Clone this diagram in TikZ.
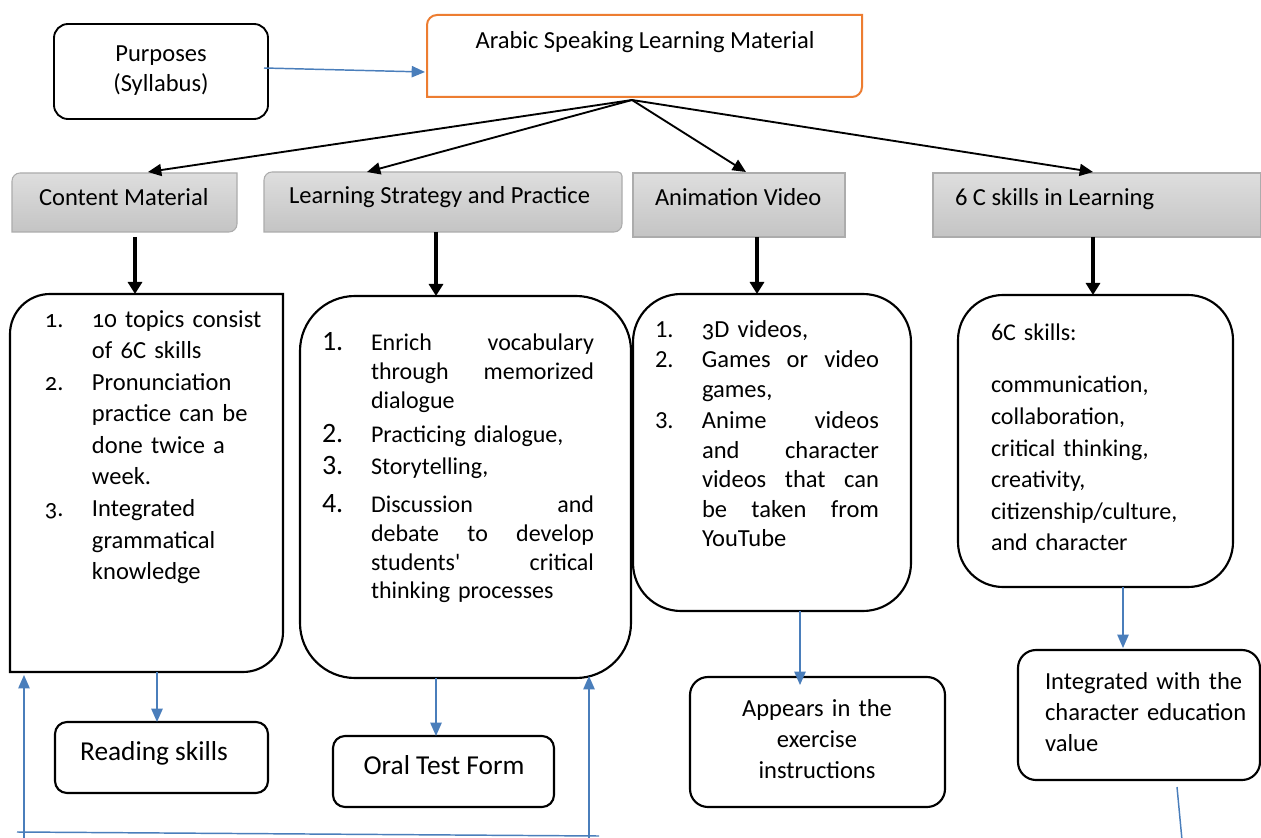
\documentclass[tikz,border=0pt]{standalone}
\usepackage{fontspec}
\setmainfont{Carlito}
\newfontfamily\oldnum{Carlito}[Numbers=OldStyle]
\usetikzlibrary{arrows.meta,calc}

\definecolor{linkblue}{RGB}{74,126,187}
\definecolor{mainorange}{RGB}{237,125,49}
\definecolor{barTop}{RGB}{222,222,222}
\definecolor{barBot}{RGB}{196,196,196}
\definecolor{barborder}{RGB}{172,172,172}

% outline with its own radius per corner: style, x1, y1, x2, y2, rTL, rTR, rBR, rBL
\newcommand{\roundedframe}[9]{%
  \path[#1] (#2,#3+#6) .. controls (#2,#3+0.448*#6) and (#2+0.448*#6,#3) .. (#2+#6,#3)
    -- (#4-#7,#3) .. controls (#4-0.448*#7,#3) and (#4,#3+0.448*#7) .. (#4,#3+#7)
    -- (#4,#5-#8) .. controls (#4,#5-0.448*#8) and (#4-0.448*#8,#5) .. (#4-#8,#5)
    -- (#2+#9,#5) .. controls (#2+0.448*#9,#5) and (#2,#5-0.448*#9) .. (#2,#5-#9)
    -- cycle;}

% invisible node covering a framed area: name, x1, y1, x2, y2
\newcommand{\placeframe}[5]{%
  \node[frame, minimum width={(#4-#2)*0.75pt}, minimum height={(#5-#3)*0.75pt}]
    (#1) at ({(#2+#4)/2},{(#3+#5)/2}) {};}

% a justified line of given width, words separated by \hfill
\newcommand{\jline}[2]{\hbox to #1{#2}}

\newcommand{\bodyfont}{\fontsize{18.4}{23.7}\selectfont}
\newcommand{\bignum}{\fontsize{21}{21}\selectfont}

\tikzset{
  frame/.style={inner sep=0pt, outer sep=0pt, draw=none},
  txt/.style={inner sep=0pt, outer sep=0pt},
  boxline/.style={draw=black, line width=1.6pt},
  bar/.style={draw=barborder, line width=0.8pt, top color=barTop, bottom color=barBot},
  blackarrow/.style={draw=black, line width=1.4pt, -{Triangle[length=10pt,width=9pt]}},
  thickarrow/.style={draw=black, line width=2.6pt, -{Triangle[length=9pt,width=10.5pt]}},
  bluearrow/.style={draw=linkblue, line width=1.1pt, -{Triangle[length=10pt,width=8.5pt]}},
  blueline/.style={draw=linkblue, line width=1.1pt},
}

\begin{document}
\begin{tikzpicture}[x=0.75pt,y=-0.75pt]
\path[fill=white] (0,0) rectangle (1261,838);
\useasboundingbox (0,0) rectangle (1261,838);

% ---------- frames ----------
\placeframe{purp}{54}{24}{268}{119}
\placeframe{main}{427}{15}{862}{97}
\placeframe{h1}{12}{173}{237}{232}
\placeframe{h2}{264}{172}{622}{232}
\placeframe{h3}{633}{173}{845}{237}
\placeframe{h4}{933}{173}{1261}{237}
\placeframe{b1}{10}{294}{283}{672}
\placeframe{b2}{300}{296}{631}{678}
\placeframe{b3}{633}{294}{911}{611}
\placeframe{b4}{958}{295}{1233}{587}
\placeframe{read}{55}{722}{268}{793}
\placeframe{oral}{333}{736}{554}{807}
\placeframe{appr}{690}{677}{945}{807}
\placeframe{integ}{1018}{650}{1260}{780}

% ---------- outlines ----------
\roundedframe{draw=black, line width=1.4pt}{54}{24}{268}{119}{14}{14}{14}{14}
\roundedframe{draw=mainorange, line width=1.5pt}{427}{15}{862}{97}{10}{0}{10}{0}
\roundedframe{bar}{12}{173}{237}{232}{8}{0}{8}{0}
\roundedframe{bar}{264}{172}{622}{232}{8}{4}{8}{0}
\roundedframe{bar}{633}{173}{845}{237}{0}{0}{0}{0}
\roundedframe{bar}{933}{173}{1261}{237}{0}{0}{0}{0}
\roundedframe{boxline}{10}{294}{283}{672}{40}{0}{40}{0}
\roundedframe{boxline}{300}{296}{631}{678}{55}{55}{55}{55}
\roundedframe{boxline}{633}{294}{911}{611}{48}{48}{48}{48}
\roundedframe{boxline}{958}{295}{1233}{587}{45}{45}{45}{45}
\roundedframe{boxline}{55}{722}{268}{793}{12}{12}{12}{12}
\roundedframe{boxline}{333}{736}{554}{807}{12}{12}{12}{12}
\roundedframe{boxline}{690}{677}{945}{807}{18}{18}{18}{18}
\roundedframe{boxline}{1018}{650}{1260}{780}{18}{18}{18}{18}

% ---------- texts ----------
\node[txt, anchor=base, text width=150pt, align=center, font=\fontsize{18.4}{22.5}\selectfont]
  (purpT) at (161,62) {Purposes\\(Syllabus)};
\node[txt, anchor=base, font=\bodyfont] (mainT) at (645,49) {Arabic Speaking Learning Material};

\node[txt, anchor=base west, font=\bodyfont] (h1T) at (39,206) {Content Material};
\node[txt, anchor=base west, font=\bodyfont] (h2T) at (289,204) {Learning Strategy and Practice};
\node[txt, anchor=base west, font=\bodyfont] (h3T) at (655,206) {Animation Video};
\node[txt, anchor=base west, font=\bodyfont] (h4T) at (955,206) {6 C skills in Learning};

\node[txt, anchor=base west, text width=190pt, align=left, font=\bodyfont] (b1T) at (45,327) {%
\makebox[35.25pt][l]{\oldnum 1.}{\oldnum 10} topics consist\\
\hspace*{35.25pt}of {\oldnum 6}C skills\\
\makebox[35.25pt][l]{\oldnum 2.}Pronunciation\\
\hspace*{35.25pt}practice can be\\
\hspace*{35.25pt}done twice a\\
\hspace*{35.25pt}week.\\
\makebox[35.25pt][l]{\oldnum 3.}Integrated\\
\hspace*{35.25pt}grammatical\\
\hspace*{35.25pt}knowledge};

\node[txt, anchor=base west, text width=220pt, align=left, font=\fontsize{18}{21.75}\selectfont] (b2T) at (322,350) {%
\makebox[36.75pt][l]{\bignum 1.}\jline{167.25pt}{Enrich\hfill vocabulary}\\
\hspace*{36.75pt}\jline{167.25pt}{through\hfill memorized}\\
\hspace*{36.75pt}dialogue\\[3.75pt]
\makebox[36.75pt][l]{\bignum 2.}Practicing dialogue,\\[2.25pt]
\makebox[36.75pt][l]{\bignum 3.}Storytelling,\\[6.75pt]
\makebox[36.75pt][l]{\bignum 4.}\jline{167.25pt}{Discussion\hfill and}\\
\hspace*{36.75pt}\jline{167.25pt}{debate\hfill to\hfill develop}\\
\hspace*{36.75pt}\jline{167.25pt}{students\textquotesingle\hfill critical}\\
\hspace*{36.75pt}thinking processes};

\node[txt, anchor=base west, text width=180pt, align=left, font=\fontsize{18.4}{22.2}\selectfont] (b3T) at (655,337) {%
\makebox[35.25pt][l]{1.}{\oldnum 3}D videos,\\[1pt]
\makebox[35.25pt][l]{2.}\jline{132.75pt}{Games\hfill or\hfill video}\\
\hspace*{35.25pt}games,\\[1pt]
\makebox[35.25pt][l]{3.}\jline{132.75pt}{Anime\hfill videos}\\
\hspace*{35.25pt}\jline{132.75pt}{and\hfill character}\\
\hspace*{35.25pt}\jline{132.75pt}{videos\hfill that\hfill can}\\
\hspace*{35.25pt}\jline{132.75pt}{be\hfill taken\hfill from}\\
\hspace*{35.25pt}YouTube};

\node[txt, anchor=base west, text width=190pt, align=left, font=\fontsize{18}{23.7}\selectfont] (b4T) at (991,340) {%
6C skills:\\[16pt]
communication,\\
collaboration,\\
critical thinking,\\
creativity,\\
citizenship/culture,\\
and character};

\node[txt, anchor=base, font=\fontsize{20.5}{24}\selectfont] (readT) at (154,760) {Reading skills};
\node[txt, anchor=base, font=\fontsize{20.5}{24}\selectfont] (oralT) at (444,774) {Oral Test Form};
\node[txt, anchor=base, text width=180pt, align=center, font=\fontsize{18.4}{23.25}\selectfont]
  (apprT) at (817,716) {Appears in the\\exercise\\instructions};
\node[txt, anchor=base west, text width=175pt, align=left, font=\fontsize{18.4}{23.25}\selectfont]
  (integT) at (1045,689) {Integrated with the\\character education\\value};

% ---------- connectors ----------
\draw[bluearrow] ($(purp.east)+(-4,-3.5)$) -- ($(main.west)+(-2,16)$);

\coordinate (apex) at ($(main.south)+(-12.5,3)$);
\draw[blackarrow] (apex) -- ($(h1.north)+(23.5,-1)$);
\draw[blackarrow] (apex) -- ($(h2.north)+(-76,0)$);
\draw[blackarrow] (apex) -- ($(h3.north)+(7,-1)$);
\draw[blackarrow] (apex) -- ($(h4.north)+(-4,-1)$);

\draw[thickarrow] ($(h1.south)+(10.5,5)$) -- ($(b1.north)+(-11.5,0)$);
\draw[thickarrow] ($(h2.south)+(-7,0)$) -- ($(b2.north)+(-29.5,0)$);
\draw[thickarrow] ($(h3.south)+(18,0)$) -- ($(b3.north)+(-15,0)$);
\draw[thickarrow] ($(h4.south)+(-4,0)$) -- ($(b4.north)+(-2.5,0)$);

\draw[bluearrow] ($(b1.south)+(10.5,0)$) -- ($(read.north)+(-4.5,0)$);
\draw[bluearrow] ($(b2.south)+(-29.5,0)$) -- ($(oral.north)+(-7.5,0)$);
\draw[bluearrow] ($(b3.south)+(28,0)$) -- ($(appr.north)+(-17.5,8)$);
\draw[bluearrow] ($(b4.south)+(27.5,0)$) -- ($(integ.north)+(-16,-2)$);

% return line along the bottom edge
\coordinate (loopW) at (17,832);
\coordinate (loopE) at (599,836);
\coordinate (loopL) at (24,838);
\coordinate (loopR) at (589,838);
\draw[blueline] (loopW) -- (loopE);
\draw[bluearrow] (loopL) -- ($(b1.south west)+(14,3)$);
\draw[bluearrow] (loopR) -- ($(b2.south)+(123.5,-2)$);

\coordinate (tailEnd) at (1182,840);
\draw[blueline] ($(integ.south)+(38,7)$) -- (tailEnd);
\end{tikzpicture}
\end{document}
